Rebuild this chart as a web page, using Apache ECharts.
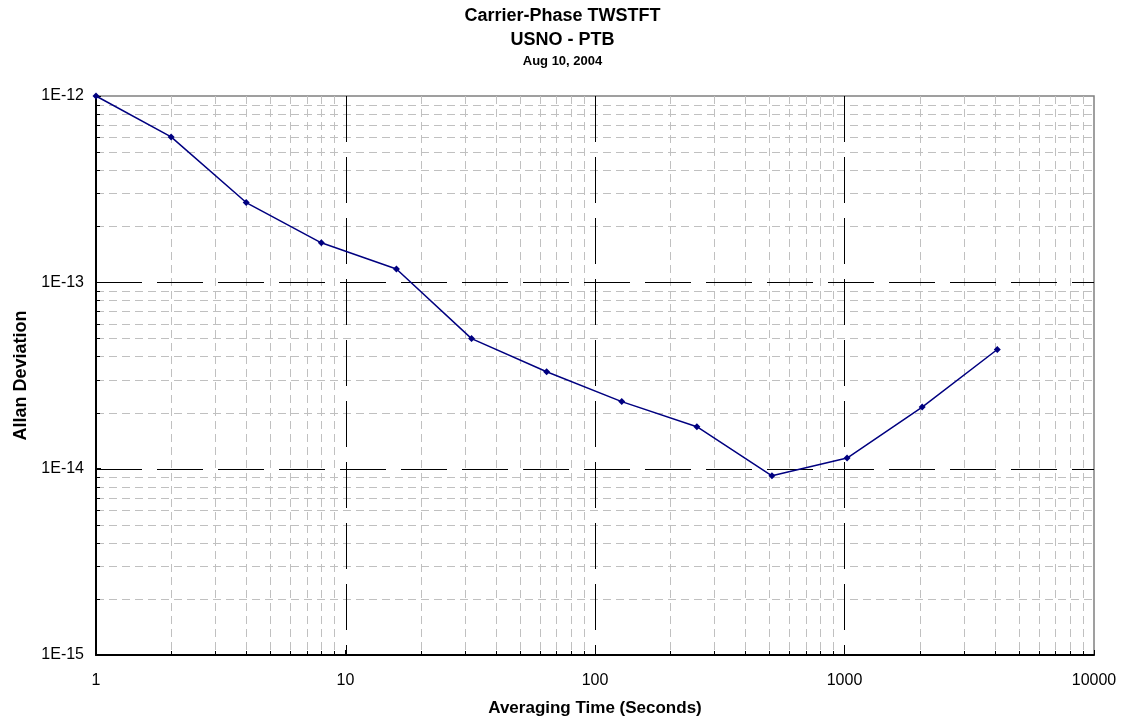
<!DOCTYPE html>
<html>
<head>
<meta charset="utf-8">
<script src="https://cdn.jsdelivr.net/npm/echarts@6/dist/echarts.min.js"></script>
<style>html,body{margin:0;padding:0;background:#fff;}#c{width:1125px;height:725px;}</style>
</head>
<body>
<div id="c"></div>
<script>
// Averaging time (s)
const tau = [1, 2, 4, 8, 16, 32, 64, 128, 256, 512, 1024, 2048, 4096];
// Allan deviation
const adev = [1.0e-12, 6.03e-13, 2.68e-13, 1.63e-13, 1.18e-13, 4.99e-14, 3.31e-14, 2.29e-14, 1.68e-14, 9.16e-15, 1.14e-14, 2.14e-14, 4.36e-14];
// Axis ticks
const xTicks = [1, 10, 100, 1000, 10000];
const yTicks = [1e-15, 1e-14, 1e-13, 1e-12];
const xMinor = [2,3,4,5,6,7,8,9, 20,30,40,50,60,70,80,90, 200,300,400,500,600,700,800,900, 2000,3000,4000,5000,6000,7000,8000,9000];
const yMinor = [2e-15,3e-15,4e-15,5e-15,6e-15,7e-15,8e-15,9e-15, 2e-14,3e-14,4e-14,5e-14,6e-14,7e-14,8e-14,9e-14, 2e-13,3e-13,4e-13,5e-13,6e-13,7e-13,8e-13,9e-13];

const FONT = '"Liberation Sans", Arial, sans-serif';

function vLine(color, dash, tick) {
  return function (params, api) {
    const cs = params.coordSys;
    const p = api.coord([api.value(0), api.value(1)]);
    const x = Math.round(p[0]) + 0.5;
    const ch = [{ type: 'line', shape: { x1: x, y1: cs.y, x2: x, y2: cs.y + cs.height },
      style: { stroke: color, lineWidth: 1, lineDash: dash } }];
    if (tick) ch.push({ type: 'line', shape: { x1: x, y1: cs.y + cs.height, x2: x, y2: cs.y + cs.height - 4 },
      style: { stroke: '#000', lineWidth: 1 } });
    return { type: 'group', children: ch };
  };
}
function hLine(color, dash, tick) {
  return function (params, api) {
    const cs = params.coordSys;
    const p = api.coord([api.value(0), api.value(1)]);
    const y = Math.round(p[1]) + 0.5;
    const ch = [{ type: 'line', shape: { x1: cs.x, y1: y, x2: cs.x + cs.width, y2: y },
      style: { stroke: color, lineWidth: 1, lineDash: dash } }];
    if (tick) ch.push({ type: 'line', shape: { x1: cs.x, y1: y, x2: cs.x + 4, y2: y },
      style: { stroke: '#000', lineWidth: 1 } });
    return { type: 'group', children: ch };
  };
}

const chart = echarts.init(document.getElementById('c'), null, { renderer: 'canvas' });
chart.setOption({
  animation: false,
  backgroundColor: '#fff',
  textStyle: { fontFamily: FONT },
  title: [
    { text: 'Carrier-Phase TWSTFT', left: 'center', top: 7, padding: 0,
      textStyle: { fontFamily: FONT, fontSize: 18, fontWeight: 'bold', color: '#000' } },
    { text: 'USNO - PTB', left: 'center', top: 31, padding: 0,
      textStyle: { fontFamily: FONT, fontSize: 18, fontWeight: 'bold', color: '#000' } },
    { text: 'Aug 10, 2004', left: 'center', top: 55, padding: 0,
      textStyle: { fontFamily: FONT, fontSize: 13, fontWeight: 'bold', color: '#000' } }
  ],
  grid: { left: 96, right: 31, top: 96, bottom: 70, show: true, borderColor: '#808080', borderWidth: 1.5, backgroundColor: 'transparent' },
  xAxis: {
    type: 'log', logBase: 10, min: xTicks[0], max: xTicks[xTicks.length - 1],
    name: 'Averaging Time (Seconds)', nameLocation: 'middle', nameGap: 45,
    nameTextStyle: { fontFamily: FONT, fontSize: 17, fontWeight: 'bold', color: '#000' },
    axisLine: { show: true, onZero: false, lineStyle: { color: '#000', width: 2 } },
    axisTick: { show: true, inside: true, length: 5, lineStyle: { color: '#000' } },
    axisLabel: { margin: 18, fontFamily: FONT, fontSize: 16, color: '#000',
      formatter: v => String(Math.round(v)) },
    splitLine: { show: false },
    z: 1
  },
  yAxis: {
    type: 'log', logBase: 10, min: yTicks[0], max: yTicks[yTicks.length - 1],
    name: 'Allan Deviation', nameLocation: 'middle', nameGap: 66,
    nameTextStyle: { fontFamily: FONT, fontSize: 18, fontWeight: 'bold', color: '#000' },
    axisLine: { show: true, onZero: false, lineStyle: { color: '#000', width: 2 } },
    axisTick: { show: true, inside: true, length: 5, lineStyle: { color: '#000' } },
    axisLabel: { margin: 12, fontFamily: FONT, fontSize: 16, color: '#000',
      formatter: v => '1E' + Math.round(Math.log10(v)) },
    splitLine: { show: false },
    z: 1
  },
  series: [
    { type: 'custom', name: 'xMinor', silent: true, z: 0,
      renderItem: vLine('#c0c0c0', [8, 5], true),
      data: xMinor.map(v => [v, yTicks[0]]) },
    { type: 'custom', name: 'yMinor', silent: true, z: 0,
      renderItem: hLine('#c0c0c0', [8, 5], true),
      data: yMinor.map(v => [xTicks[0], v]) },
    { type: 'custom', name: 'xMajor', silent: true, z: 0.5,
      renderItem: vLine('#000', [46, 15], false),
      data: xTicks.slice(1, -1).map(v => [v, yTicks[0]]) },
    { type: 'custom', name: 'yMajor', silent: true, z: 0.5,
      renderItem: hLine('#000', [46, 15], false),
      data: yTicks.slice(1, -1).map(v => [xTicks[0], v]) },
    { type: 'line', name: 'Allan Deviation', z: 3,
      data: tau.map((t, i) => [t, adev[i]]),
      symbol: 'diamond', symbolSize: 7, showSymbol: true,
      lineStyle: { color: '#000080', width: 1.5 },
      itemStyle: { color: '#000080' } }
  ]
});
</script>
</body>
</html>
